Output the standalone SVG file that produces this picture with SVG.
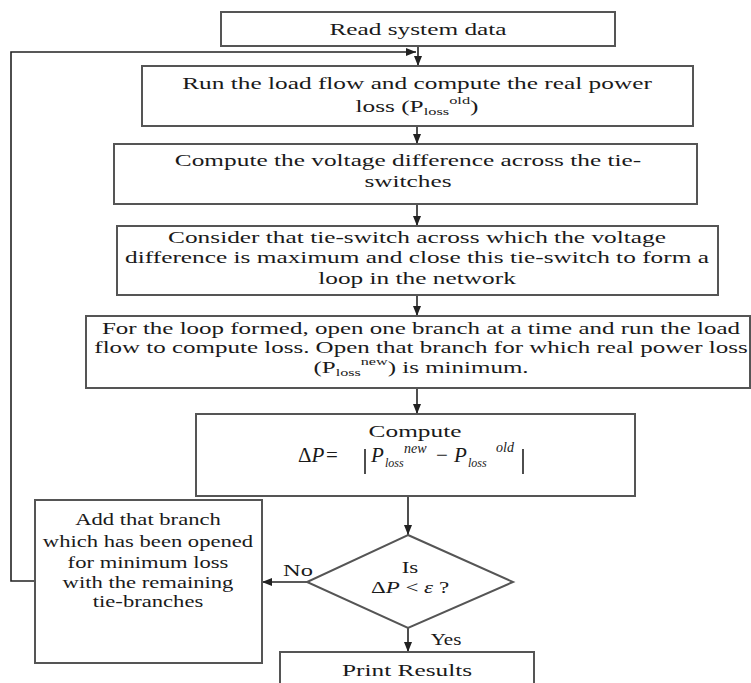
<svg xmlns="http://www.w3.org/2000/svg" width="751" height="683" viewBox="0 0 751 683">
<style>
.bg{fill:#fff}
.box{fill:#fff;stroke:#555;stroke-width:2}
.t{font-family:"Liberation Serif","Times New Roman",serif;font-size:17px;fill:#1a1a1a}
.c{text-anchor:middle}
.i{font-style:italic}
.s{font-size:11px}
.f{font-size:21px}
.fs{font-size:12px}
.fu{font-size:14px}
.conn{stroke:#222;stroke-width:1.6;fill:none}
</style>
<defs>
<marker id="ah" markerUnits="userSpaceOnUse" markerWidth="10" markerHeight="8" refX="10" refY="4" orient="auto">
<path d="M0,0 L10,4 L0,8 z" fill="#222"/>
</marker>
</defs>
<rect class="bg" x="0" y="0" width="751" height="683"/>

<g id="connectors">
<path class="conn" d="M418,46 V66" marker-end="url(#ah)"/>
<path class="conn" d="M417,126 V144" marker-end="url(#ah)"/>
<path class="conn" d="M417,204 V226" marker-end="url(#ah)"/>
<path class="conn" d="M417,295 V316" marker-end="url(#ah)"/>
<path class="conn" d="M417,388 V414" marker-end="url(#ah)"/>
<path class="conn" d="M408,496 V535" marker-end="url(#ah)"/>
<path class="conn" d="M408,628 V652" marker-end="url(#ah)"/>
<path class="conn" d="M307,582 H262" marker-end="url(#ah)"/>
<path class="conn" d="M35,581 H11 V52 H416" marker-end="url(#ah)"/>
</g>

<g id="n1">
<rect class="box" x="221" y="12" width="394" height="34"/>
<g transform="translate(418 0) scale(1.49 1)"><text class="t c" x="0" y="35">Read system data</text></g>
</g>

<g id="n2">
<rect class="box" x="142" y="66" width="551" height="60"/>
<g transform="translate(417 0) scale(1.49 1)"><text class="t c"><tspan x="0" y="89">Run the load flow and compute the real power</tspan><tspan x="0" y="112">loss (P<tspan class="s" dy="3">loss</tspan><tspan class="s" dy="-11">old</tspan><tspan dy="8">)</tspan></tspan></text></g>
</g>

<g id="n3">
<rect class="box" x="114" y="144" width="583" height="60"/>
<g transform="translate(408 0) scale(1.49 1)"><text class="t c"><tspan x="0" y="166">Compute the voltage difference across the tie-</tspan><tspan x="0" y="187">switches</tspan></text></g>
</g>

<g id="n4">
<rect class="box" x="117" y="226" width="601" height="69"/>
<g transform="translate(417 0) scale(1.49 1)"><text class="t c"><tspan x="0" y="243">Consider that tie-switch across which the voltage</tspan><tspan x="0" y="263">difference is maximum and close this tie-switch to form a</tspan><tspan x="0" y="284">loop in the network</tspan></text></g>
</g>

<g id="n5">
<rect class="box" x="86" y="316" width="664" height="72"/>
<g transform="translate(421 0) scale(1.47 1)"><text class="t c"><tspan x="0" y="334">For the loop formed, open one branch at a time and run the load</tspan><tspan x="0" y="353">flow to compute loss. Open that branch for which real power loss</tspan><tspan x="0" y="373">(P<tspan class="s" dy="3">loss</tspan><tspan class="s" dy="-11">new</tspan><tspan dy="8">) is minimum.</tspan></tspan></text></g>
</g>

<g id="n6">
<rect class="box" x="196" y="414" width="439" height="82"/>
<g transform="translate(415 0) scale(1.49 1)"><text class="t c" x="0" y="437">Compute</text></g>
<text class="t f" x="298" y="462">Δ<tspan class="i">P</tspan></text>
<text class="t f" x="326" y="462">=</text>
<path d="M365,449 V474 M523,449 V474" stroke="#222" stroke-width="1.6"/>
<text class="t f i" x="371" y="462">P</text>
<text class="t i fs" x="385" y="467">loss</text>
<text class="t i fu" x="404" y="453">new</text>
<text class="t f" x="436" y="462">−</text>
<text class="t f i" x="454" y="462">P</text>
<text class="t i fs" x="468" y="467">loss</text>
<text class="t i fu" x="496" y="452">old</text>
</g>

<g id="n7">
<path class="box" d="M408,535 L513,582 L408,628 L307,582 Z"/>
<g transform="translate(410 0) scale(1.35 1)"><text class="t c"><tspan x="0" y="573">Is</tspan><tspan x="0" y="593">Δ<tspan class="i">P</tspan> &lt; <tspan class="i">ε</tspan> ?</tspan></text></g>
</g>

<g id="n8">
<rect class="box" x="35" y="500" width="227" height="163"/>
<g transform="translate(148 0) scale(1.33 1)"><text class="t c"><tspan x="0" y="525">Add that branch</tspan><tspan x="0" y="547">which has been opened</tspan><tspan x="0" y="568">for minimum loss</tspan><tspan x="0" y="588">with the remaining</tspan><tspan x="0" y="607">tie-branches</tspan></text></g>
</g>

<g id="n9">
<rect class="box" x="280" y="652" width="254" height="40"/>
<g transform="translate(407 0) scale(1.49 1)"><text class="t c" x="0" y="676">Print Results</text></g>
</g>

<g id="labels">
<g transform="translate(298 0) scale(1.44 1)"><text class="t c" x="0" y="576">No</text></g>
<g transform="translate(446 0) scale(1.24 1)"><text class="t c" x="0" y="645">Yes</text></g>
</g>
</svg>
